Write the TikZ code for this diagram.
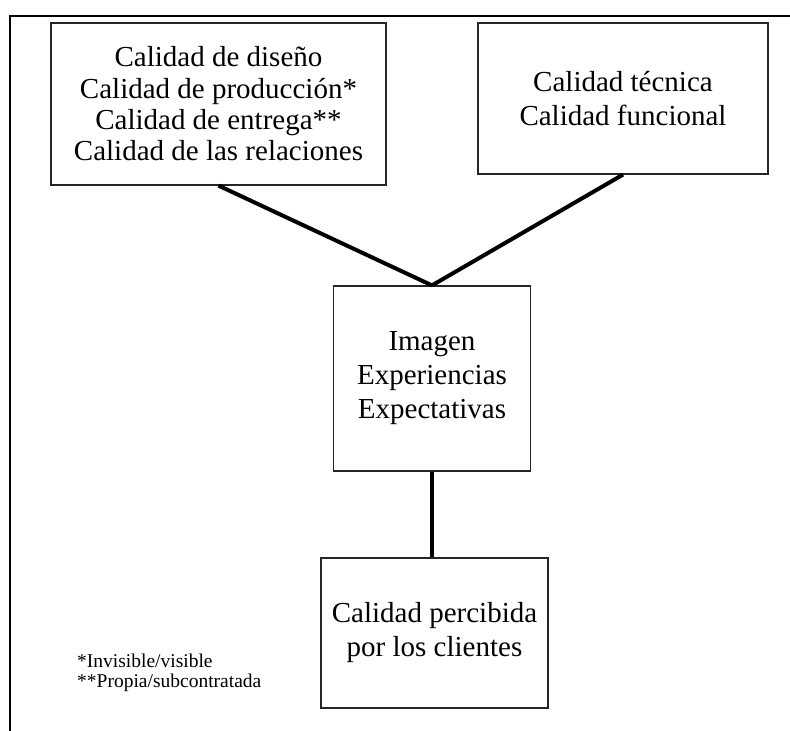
\documentclass[tikz,border=0pt]{standalone}
\usepackage{fontspec}
\setmainfont{Liberation Serif}

\begin{document}
\begin{tikzpicture}[x=1pt, y=-1pt,
    box/.style={draw=black!85, line width=1.2pt, align=center, inner sep=0pt,
        font=\fontsize{29}{34}\selectfont},
    link/.style={line width=4pt}]
    \useasboundingbox (0,0) rectangle (790,731);
    \draw[line width=2pt] (790,16) -- (10,16) -- (10,731);

    \node[box, minimum width=335pt, minimum height=162pt, font=\fontsize{29}{31.3}\selectfont] (design) at (218.5,104)
        {Calidad de diseño\\ Calidad de producción*\\ Calidad de entrega**\\ Calidad de las relaciones};
    \node[box, minimum width=290pt, minimum height=151pt] (technical) at (623,98.5)
        {Calidad técnica\\ Calidad funcional};
    \node[box, minimum width=197pt, minimum height=185pt] (image) at (432,378.5)
        {Imagen\\ Experiencias\\ Expectativas};
    \node[box, minimum width=227pt, minimum height=150pt] (perceived) at (434.5,633)
        {Calidad percibida\\ por los clientes};

    \node[anchor=west, align=left, inner sep=0pt, font=\fontsize{19.5}{20}\selectfont] (notes) at (77,673)
        {*Invisible/visible\\ **Propia/subcontratada};

    \draw[link] (design.south) -- (image.north);
    \draw[link] (technical.south) -- (image.north);
    \draw[link] (image.south) -- (image.south |- perceived.north);
\end{tikzpicture}
\end{document}
